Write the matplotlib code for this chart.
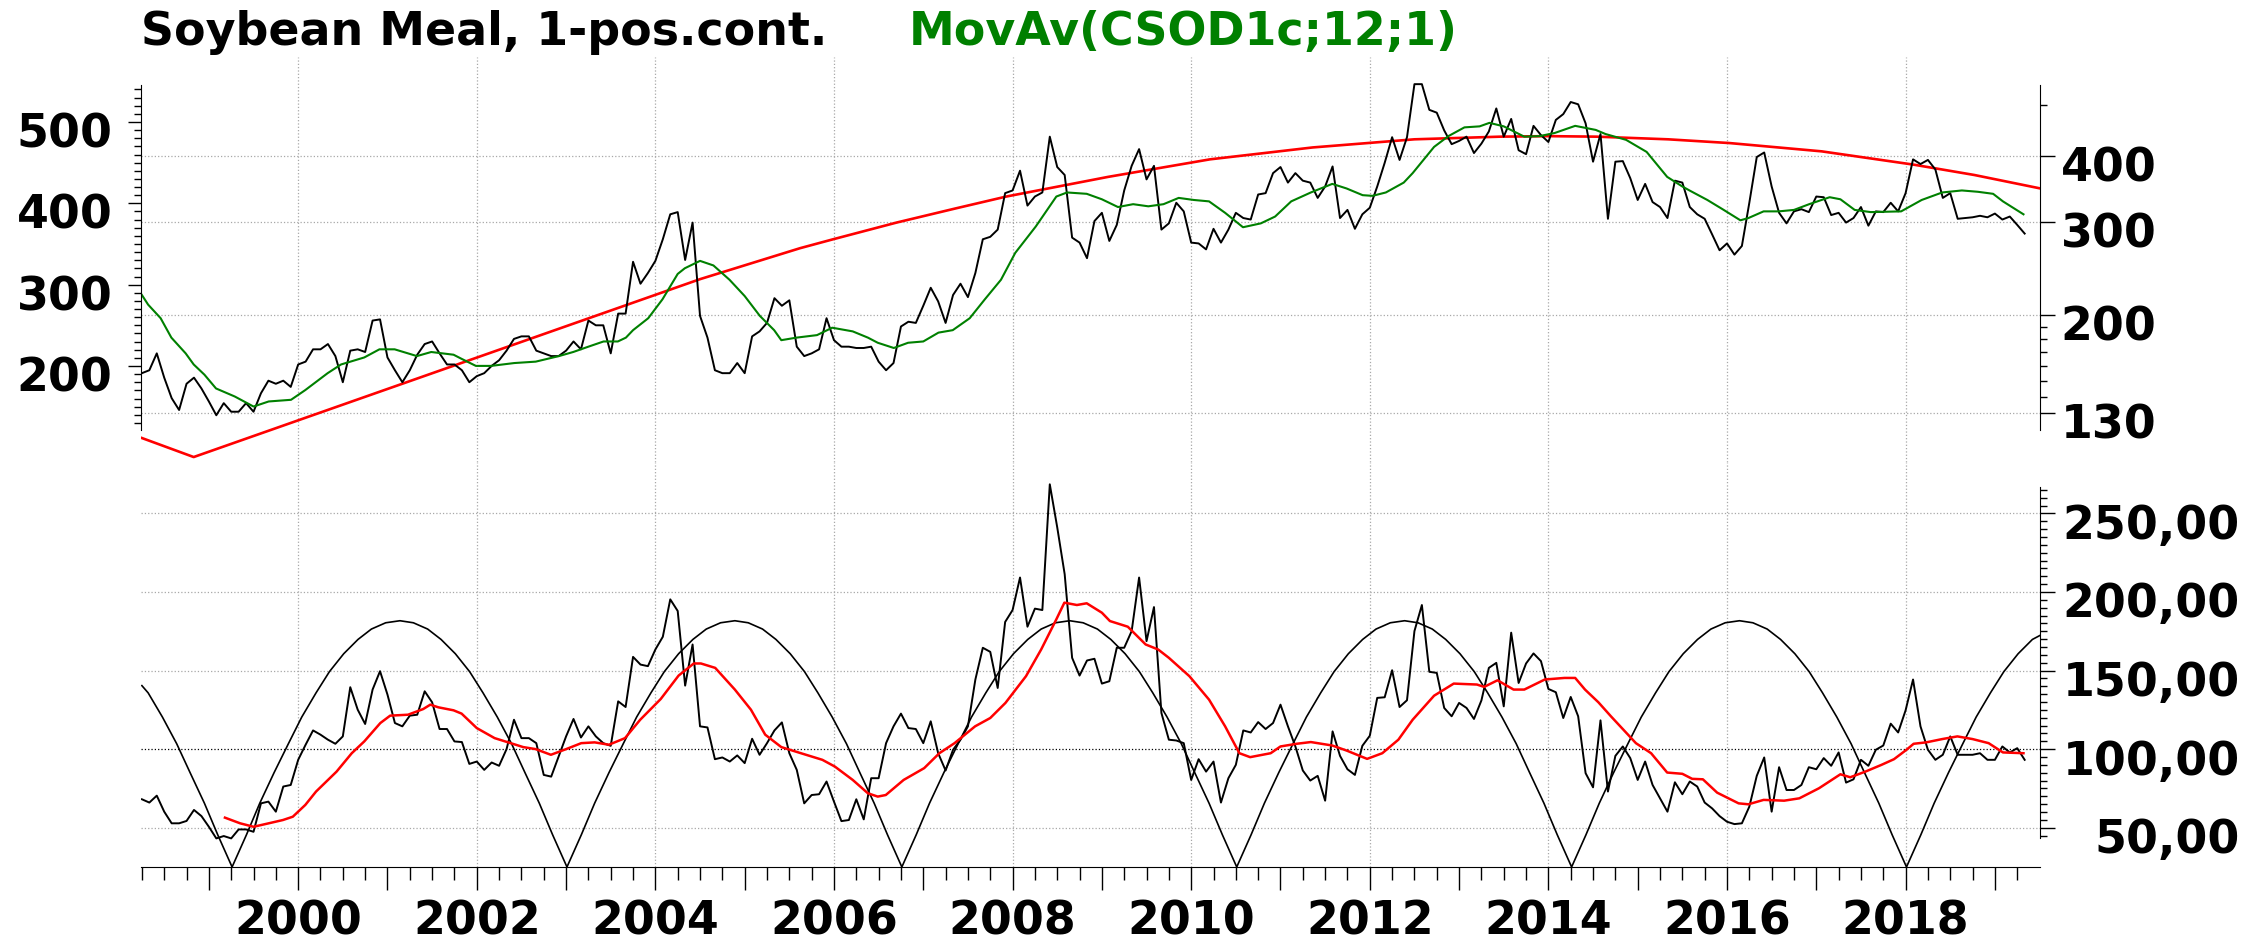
import numpy as np
import pandas as pd
import matplotlib
matplotlib.use("Agg")
import matplotlib.pyplot as plt
from matplotlib.ticker import FixedLocator, FixedFormatter, NullFormatter
from matplotlib.transforms import ScaledTranslation

plt.rcParams['font.family'] = ['DejaVu Sans']
plt.rcParams['font.weight'] = 'bold'

# monthly close, Apr 1998 .. May 2019
price = [
    155, 157, 169, 152, 139, 132, 148, 152, 145, 137,
    129, 136, 131, 131, 136, 131, 142, 150, 148, 150,
    146, 161, 163, 172, 172, 176, 167, 149, 171, 172,
    170, 195, 196, 166, 157, 149, 157, 168, 176, 178,
    169, 161, 161, 157, 149, 153, 155, 160, 164, 171,
    180, 182, 182, 171, 169, 167, 167, 171, 178, 172,
    195, 191, 191, 169, 201, 201, 252, 229, 240, 253,
    278, 310, 313, 254, 299, 199, 181, 157, 155, 155,
    162, 155, 182, 186, 193, 215, 208, 213, 174, 167,
    169, 172, 197, 179, 174, 174, 173, 173, 174, 163,
    157, 162, 190, 194, 193, 208, 225, 212, 193, 218,
    229, 216, 240, 278, 281, 290, 340, 344, 375, 322,
    335, 341, 435, 381, 368, 280, 274, 256, 301, 312,
    276, 296, 344, 383, 412, 361, 383, 290, 298, 326,
    314, 274, 273, 266, 291, 274, 290, 312, 305, 303,
    338, 340, 371, 381, 356, 371, 359, 356, 333, 350,
    382, 305, 316, 291, 310, 319, 350, 388, 434, 393,
    434, 547, 547, 489, 483, 447, 421, 427, 435, 405,
    422, 445, 492, 435, 470, 410, 403, 456, 438, 425,
    468, 480, 506, 501, 461, 390, 440, 304, 390, 391,
    363, 330, 354, 327, 320, 305, 359, 356, 320, 310,
    304, 284, 265, 273, 260, 270, 326, 398, 406, 350,
    312, 298, 314, 317, 313, 335, 334, 309, 312, 299,
    305, 320, 295, 314, 313, 326, 314, 340, 394, 386,
    393, 377, 333, 340, 304, 305, 306, 308, 306, 311,
    303, 307, 296, 285,
]

# oscillator, same months
osc = [
    68.1, 66.0, 70.4, 60.2, 52.8, 52.8, 54.3, 61.3, 57.4, 50.6,
    43.2, 44.7, 43.2, 48.9, 48.9, 47.4, 65.5, 66.6, 60.2, 76.2,
    77.2, 93.2, 102.8, 111.9, 109.2, 106.0, 103.4, 108.1, 139.4, 125.1,
    116.0, 137.9, 149.6, 134.7, 116.6, 114.5, 121.3, 121.9, 136.8, 129.8,
    112.8, 112.8, 104.9, 104.5, 90.6, 92.1, 86.8, 91.5, 89.4, 100.0,
    118.7, 107.0, 107.0, 103.8, 83.6, 82.5, 95.3, 108.1, 119.2, 107.4,
    114.5, 108.1, 103.8, 102.1, 130.4, 126.8, 158.7, 153.8, 152.8, 163.4,
    171.5, 195.3, 187.9, 140.4, 166.6, 114.5, 113.8, 93.6, 94.7, 92.1,
    96.0, 91.1, 106.6, 96.4, 103.8, 111.9, 117.0, 97.4, 86.8, 65.5,
    70.8, 71.3, 79.4, 66.6, 54.2, 54.9, 68.1, 55.3, 81.5, 81.5,
    103.8, 114.5, 122.6, 113.4, 112.8, 103.8, 117.7, 97.4, 86.4, 99.6,
    106.0, 114.5, 144.3, 164.5, 161.9, 138.9, 180.9, 188.5, 209.2, 177.9,
    189.4, 188.5, 268.5, 241.1, 211.3, 158.1, 146.8, 156.4, 157.5, 141.7,
    143.2, 164.5, 164.5, 175.1, 209.2, 168.7, 190.4, 123.0, 106.0, 105.5,
    103.8, 80.4, 93.6, 85.7, 92.1, 66.0, 81.5, 90.0, 111.9, 110.6,
    117.2, 112.8, 116.6, 128.3, 114.5, 101.7, 86.4, 80.0, 83.0, 67.2,
    111.3, 95.7, 87.2, 83.6, 102.1, 108.5, 132.6, 133.0, 150.2, 126.8,
    131.1, 175.1, 191.7, 149.2, 148.5, 126.2, 120.9, 129.4, 126.2, 119.2,
    131.0, 151.7, 154.9, 127.2, 174.1, 142.1, 154.5, 160.9, 156.0, 138.3,
    136.2, 119.8, 133.2, 120.9, 84.7, 75.7, 118.3, 73.0, 95.7, 101.7,
    94.3, 80.4, 92.1, 77.2, 68.7, 60.2, 78.9, 71.3, 79.4, 76.2,
    66.0, 62.3, 57.4, 53.8, 52.3, 52.8, 63.4, 83.0, 94.7, 60.2,
    88.5, 74.0, 74.0, 77.2, 88.5, 87.2, 94.3, 89.4, 97.9, 78.7,
    80.8, 93.2, 89.4, 99.6, 102.3, 116.2, 110.6, 124.7, 144.3, 114.5,
    99.6, 93.2, 96.4, 108.1, 96.4, 96.4, 96.4, 97.4, 93.2, 93.2,
    101.7, 97.9, 100.6, 93.2,
]

# MovAv(CSOD1c;12;1)
ma_t = [1998.25, 1998.32, 1998.46, 1998.58, 1998.74, 1998.83, 1998.95, 1999.08, 1999.29, 1999.50,
        1999.67, 1999.92, 2000.08, 2000.33, 2000.48, 2000.74, 2000.91, 2001.08, 2001.33, 2001.49,
        2001.74, 2001.83, 2001.99, 2002.16, 2002.42, 2002.66, 2002.92, 2003.08, 2003.25, 2003.42,
        2003.58, 2003.67, 2003.75, 2003.92, 2004.08, 2004.25, 2004.33, 2004.50, 2004.65, 2004.83,
        2005.00, 2005.17, 2005.33, 2005.41, 2005.58, 2005.81, 2005.98, 2006.21, 2006.38, 2006.49,
        2006.67, 2006.83, 2007.00, 2007.17, 2007.33, 2007.52, 2007.69, 2007.87, 2008.03, 2008.26,
        2008.49, 2008.61, 2008.83, 2009.00, 2009.18, 2009.35, 2009.52, 2009.69, 2009.86, 2010.03,
        2010.20, 2010.38, 2010.58, 2010.78, 2010.94, 2011.12, 2011.34, 2011.58, 2011.74, 2011.92,
        2012.03, 2012.18, 2012.38, 2012.48, 2012.72, 2012.88, 2013.06, 2013.23, 2013.34, 2013.50,
        2013.73, 2013.90, 2014.07, 2014.30, 2014.53, 2014.64, 2014.87, 2015.10, 2015.33, 2015.50,
        2015.58, 2015.78, 2015.95, 2016.15, 2016.24, 2016.41, 2016.58, 2016.75, 2016.92, 2017.15,
        2017.27, 2017.43, 2017.61, 2017.95, 2018.18, 2018.41, 2018.63, 2018.81, 2018.98, 2019.09,
        2019.32]
ma_v = [218, 209, 197, 181, 169, 161, 154, 145, 140, 134,
        137, 138, 144, 155, 161, 166, 172, 172, 167, 170,
        168, 165, 160, 160, 162, 163, 167, 170, 174, 178,
        178, 181, 187, 197, 214, 239, 245, 253, 248, 233,
        217, 199, 187, 179, 181, 183, 189, 186, 181, 177,
        173, 177, 178, 185, 187, 197, 214, 233, 262, 294,
        335, 341, 339, 331, 320, 324, 321, 324, 333, 330,
        328, 312, 293, 298, 307, 328, 341, 354, 347, 337,
        336, 341, 356, 371, 416, 436, 453, 455, 462, 455,
        435, 436, 442, 456, 448, 440, 429, 407, 365, 350,
        344, 330, 317, 302, 305, 314, 314, 316, 324, 334,
        331, 316, 313, 314, 330, 341, 344, 342, 339, 328,
        310]

# long cycle line, top panel
cyc_top_t = [1998.25, 1998.83, 2004.50, 2005.62, 2005.99, 2006.70, 2007.36, 2007.93, 2009.07, 2010.21,
             2011.36, 2012.50, 2013.46, 2014.00, 2014.54, 2015.34, 2016.03, 2017.06, 2018.09, 2018.77,
             2019.51]
cyc_top_v = [116.8, 107.5, 233.6, 267.4, 278, 299, 318, 335, 365, 394,
             415, 430, 435, 436, 435, 430, 423, 408, 385, 368,
             347]

# moving average of the oscillator
osc_ma_t = [1999.18, 1999.35, 1999.50, 1999.67, 1999.83, 1999.94, 2000.08, 2000.20, 2000.43, 2000.60,
            2000.74, 2000.92, 2001.03, 2001.23, 2001.40, 2001.48, 2001.57, 2001.74, 2001.83, 2002.00,
            2002.20, 2002.38, 2002.52, 2002.66, 2002.83, 2003.00, 2003.17, 2003.32, 2003.48, 2003.66,
            2003.83, 2004.06, 2004.26, 2004.43, 2004.51, 2004.67, 2004.89, 2005.07, 2005.23, 2005.41,
            2005.63, 2005.87, 2006.01, 2006.21, 2006.38, 2006.49, 2006.58, 2006.78, 2007.01, 2007.18,
            2007.35, 2007.58, 2007.75, 2007.92, 2008.15, 2008.32, 2008.49, 2008.58, 2008.72, 2008.83,
            2009.00, 2009.09, 2009.29, 2009.49, 2009.63, 2009.75, 2009.98, 2010.20, 2010.38, 2010.54,
            2010.66, 2010.89, 2011.00, 2011.18, 2011.34, 2011.58, 2011.74, 2011.97, 2012.14, 2012.32,
            2012.48, 2012.72, 2012.94, 2013.20, 2013.28, 2013.43, 2013.61, 2013.73, 2013.96, 2014.18,
            2014.30, 2014.41, 2014.56, 2014.70, 2014.98, 2015.15, 2015.33, 2015.50, 2015.61, 2015.73,
            2015.89, 2016.13, 2016.24, 2016.41, 2016.64, 2016.81, 2017.03, 2017.27, 2017.38, 2017.55,
            2017.73, 2017.87, 2018.01, 2018.09, 2018.23, 2018.41, 2018.58, 2018.75, 2018.93, 2019.09,
            2019.32]
osc_ma_v = [56.4, 52.8, 50.6, 52.8, 54.9, 57.0, 64.5, 73.0, 85.7, 97.4,
            104.9, 116.6, 121.3, 121.9, 125.5, 128.3, 126.6, 124.7, 122.6, 113.4,
            107.0, 103.8, 101.3, 100.0, 96.4, 100.0, 103.8, 104.3, 102.8, 107.0,
            118.7, 131.9, 146.8, 154.5, 154.5, 151.7, 137.9, 125.1, 109.2, 101.3,
            97.4, 93.2, 88.9, 80.4, 71.9, 69.8, 70.8, 80.4, 87.9, 97.4,
            103.8, 114.5, 119.8, 129.4, 146.4, 163.4, 182.6, 193.2, 191.7, 192.8,
            186.8, 181.5, 177.9, 166.6, 163.4, 158.1, 146.4, 131.5, 114.5, 97.4,
            94.9, 97.4, 101.7, 103.4, 104.5, 102.3, 99.1, 93.8, 97.4, 106.0,
            118.7, 134.0, 141.7, 141.1, 139.6, 143.8, 137.9, 137.9, 144.3, 145.3,
            145.3, 137.9, 129.8, 120.9, 103.8, 97.4, 85.1, 84.3, 81.1, 80.8,
            72.3, 65.5, 64.9, 67.7, 67.2, 68.7, 75.1, 84.0, 82.1, 85.7,
            90.0, 93.6, 99.6, 103.4, 104.3, 106.4, 108.1, 106.4, 103.8, 97.9,
            97.4]

# short cycle line, bottom panel (one row per arch)
cyc_t = [
    1998.25, 1998.32, 1998.48, 1998.64, 1998.79, 1998.95, 1999.10,
    1999.26, 1999.42, 1999.57, 1999.73, 1999.89, 2000.04, 2000.20, 2000.35, 2000.51, 2000.67, 2000.82, 2000.98,
    2001.14, 2001.29, 2001.45, 2001.60, 2001.76, 2001.92, 2002.07, 2002.23, 2002.39, 2002.54, 2002.70, 2002.85,
    2003.01, 2003.17, 2003.32, 2003.48, 2003.64, 2003.79, 2003.95, 2004.10, 2004.26, 2004.42, 2004.57, 2004.73,
    2004.89, 2005.04, 2005.20, 2005.35, 2005.51, 2005.67, 2005.82, 2005.98, 2006.14, 2006.29, 2006.45, 2006.60,
    2006.76, 2006.92, 2007.07, 2007.23, 2007.39, 2007.54, 2007.70, 2007.85, 2008.01, 2008.17, 2008.32, 2008.48,
    2008.64, 2008.79, 2008.95, 2009.10, 2009.26, 2009.42, 2009.57, 2009.73, 2009.89, 2010.04, 2010.20, 2010.35,
    2010.51, 2010.67, 2010.82, 2010.98, 2011.14, 2011.29, 2011.45, 2011.60, 2011.76, 2011.92, 2012.07, 2012.23,
    2012.39, 2012.54, 2012.70, 2012.85, 2013.01, 2013.17, 2013.32, 2013.48, 2013.64, 2013.79, 2013.95, 2014.10,
    2014.26, 2014.42, 2014.57, 2014.73, 2014.89, 2015.04, 2015.20, 2015.35, 2015.51, 2015.67, 2015.82, 2015.98,
    2016.14, 2016.29, 2016.45, 2016.60, 2016.76, 2016.92, 2017.07, 2017.23, 2017.39, 2017.54, 2017.70, 2017.85,
    2018.01, 2018.17, 2018.32, 2018.48, 2018.64, 2018.79, 2018.95, 2019.10, 2019.26, 2019.42, 2019.51,
]
cyc_v = [
    140.4, 135.8, 120.4, 103.4, 85.0, 65.6, 45.4,
    25, 45.4, 65.6, 85.0, 103.4, 120.4, 135.8, 149.3, 160.7, 169.8, 176.4, 180.4,
    181.7, 180.4, 176.4, 169.8, 160.7, 149.3, 135.8, 120.4, 103.4, 85.0, 65.6, 45.4,
    25, 45.4, 65.6, 85.0, 103.4, 120.4, 135.8, 149.3, 160.7, 169.8, 176.4, 180.4,
    181.7, 180.4, 176.4, 169.8, 160.7, 149.3, 135.8, 120.4, 103.4, 85.0, 65.6, 45.4,
    25, 45.4, 65.6, 85.0, 103.4, 120.4, 135.8, 149.3, 160.7, 169.8, 176.4, 180.4,
    181.7, 180.4, 176.4, 169.8, 160.7, 149.3, 135.8, 120.4, 103.4, 85.0, 65.6, 45.4,
    25, 45.4, 65.6, 85.0, 103.4, 120.4, 135.8, 149.3, 160.7, 169.8, 176.4, 180.4,
    181.7, 180.4, 176.4, 169.8, 160.7, 149.3, 135.8, 120.4, 103.4, 85.0, 65.6, 45.4,
    25, 45.4, 65.6, 85.0, 103.4, 120.4, 135.8, 149.3, 160.7, 169.8, 176.4, 180.4,
    181.7, 180.4, 176.4, 169.8, 160.7, 149.3, 135.8, 120.4, 103.4, 85.0, 65.6, 45.4,
    25, 45.4, 65.6, 85.0, 103.4, 120.4, 135.8, 149.3, 160.7, 169.8, 172.5,
]

top_ticks_right = [130, 200, 300, 400]
top_ticks_left = [200, 300, 400, 500]
bot_ticks = [50, 100, 150, 200, 250]
bot_labels = ['50,00', '100,00', '150,00', '200,00', '250,00']
year_labels = list(range(2000, 2019, 2))

months = pd.date_range('1998-04-01', periods=len(price), freq='MS')
t = np.asarray(months.year + (months.month - 1) / 12.0)

W, H = 2264, 941
XLIM = (1998.24, 2019.505)
GRID = dict(color='#a8a8a8', linestyle=':', linewidth=0.9, zorder=0)
FS = 33

fig = plt.figure(figsize=(W / 100, H / 100), dpi=100)


def px_box(x0, y0, x1, y1):
    return [x0 / W, 1 - y1 / H, (x1 - x0) / W, (y1 - y0) / H]


ax_top = fig.add_axes(px_box(141, 57, 2040, 462))
ax_bot = fig.add_axes(px_box(141, 462, 2040, 867))

# ---- top panel: price (log, right) + linear scale on the left
ax_top.set_yscale('log')
ax_top.set_xlim(*XLIM)
ax_top.set_ylim(105.2, 615.8)
ax_top.plot(cyc_top_t, cyc_top_v, color='#ff0000', lw=1.9, zorder=3)
ax_top.plot(t, price, color='black', lw=1.4, zorder=4)
ax_top.plot(ma_t, ma_v, color='#008000', lw=1.5, zorder=5)
for yv in top_ticks_right:
    ax_top.axhline(yv, **GRID)
for yr in year_labels:
    ax_top.axvline(yr, **GRID)

ax_lin = ax_top.twinx()
ax_lin.set_ylim(82.0, 579.9)
ax_lin.yaxis.tick_left()
ax_lin.yaxis.set_major_locator(FixedLocator(top_ticks_left))
ax_lin.yaxis.set_major_formatter(FixedFormatter([str(v) for v in top_ticks_left]))
ax_lin.yaxis.set_minor_locator(FixedLocator([v for v in range(130, 550, 10) if v % 100]))
ax_lin.yaxis.set_minor_formatter(NullFormatter())
ax_lin.tick_params(axis='y', which='major', length=9.4, width=1, labelsize=FS, pad=11)
ax_lin.tick_params(axis='y', which='minor', length=5, width=1)
for s in ['top', 'bottom', 'right']:
    ax_lin.spines[s].set_visible(False)
ax_lin.spines['left'].set_bounds(121.3, 545.5)

ax_top.yaxis.tick_right()
ax_top.yaxis.set_major_locator(FixedLocator(top_ticks_right))
ax_top.yaxis.set_major_formatter(FixedFormatter([str(v) for v in top_ticks_right]))
ax_top.yaxis.set_minor_locator(FixedLocator([140, 150, 160, 170, 180, 190, 500]))
ax_top.yaxis.set_minor_formatter(NullFormatter())
ax_top.tick_params(axis='y', which='major', length=10.8, width=1, labelsize=FS, pad=4)
ax_top.tick_params(axis='y', which='minor', length=5, width=1)
ax_top.tick_params(axis='x', which='both', bottom=False, labelbottom=False)
for s in ['top', 'bottom', 'left']:
    ax_top.spines[s].set_visible(False)
ax_top.spines['right'].set_bounds(121, 545)
ax_top.patch.set_visible(False)

# ---- bottom panel: oscillator
ax_bot.set_xlim(*XLIM)
ax_bot.set_ylim(25, 282.7)
ax_bot.plot(cyc_t, cyc_v, color='black', lw=1.2, zorder=3)
ax_bot.plot(t, osc, color='black', lw=1.4, zorder=4)
ax_bot.plot(osc_ma_t, osc_ma_v, color='#ff0000', lw=1.8, zorder=5)
for yv in bot_ticks:
    if yv != 100:
        ax_bot.axhline(yv, **GRID)
ax_bot.axhline(100, color='black', linestyle=':', linewidth=0.9, zorder=1)
for yr in year_labels:
    ax_bot.axvline(yr, **GRID)

ax_bot.yaxis.tick_right()
ax_bot.yaxis.set_major_locator(FixedLocator(bot_ticks))
ax_bot.yaxis.set_major_formatter(FixedFormatter(bot_labels))
ax_bot.yaxis.set_minor_locator(FixedLocator([v for v in range(45, 270, 5) if v % 50]))
ax_bot.yaxis.set_minor_formatter(NullFormatter())
ax_bot.tick_params(axis='y', which='major', length=10.8, width=1, labelsize=FS, pad=133)
ax_bot.tick_params(axis='y', which='minor', length=5, width=1)

years = list(range(1999, 2020))
quarters = [y + q for y in range(1998, 2020) for q in (0.25, 0.5, 0.75) if y + q <= 2019.3]
ax_bot.xaxis.set_major_locator(FixedLocator(years))
ax_bot.xaxis.set_major_formatter(FixedFormatter([str(y) if y in year_labels else '' for y in years]))
ax_bot.xaxis.set_minor_locator(FixedLocator(quarters))
ax_bot.tick_params(axis='x', which='major', length=16.6, width=1, labelsize=FS, pad=7)
ax_bot.tick_params(axis='x', which='minor', length=9.6, width=1)
for s in ['top', 'left']:
    ax_bot.spines[s].set_visible(False)
ax_bot.spines['right'].set_bounds(43.6, 266.9)
ax_bot.patch.set_visible(False)

# y labels sit a little below their ticks in the original
shift = ScaledTranslation(0, -8 / 100, fig.dpi_scale_trans)
for ax in (ax_top, ax_lin, ax_bot):
    for tk in ax.yaxis.get_major_ticks():
        tk.label1.set_transform(tk.label1.get_transform() + shift)
        tk.label2.set_transform(tk.label2.get_transform() + shift)
for tk in ax_bot.yaxis.get_major_ticks():
    tk.label2.set_horizontalalignment('right')

fig.text(141 / W, 1 - 45 / H, 'Soybean Meal, 1-pos.cont.', fontsize=FS, fontweight='bold',
         va='baseline', ha='left')
fig.text(909 / W, 1 - 45 / H, 'MovAv(CSOD1c;12;1)', fontsize=FS, fontweight='bold',
         color='#008000', va='baseline', ha='left')

fig.savefig('out.png', dpi=100)
